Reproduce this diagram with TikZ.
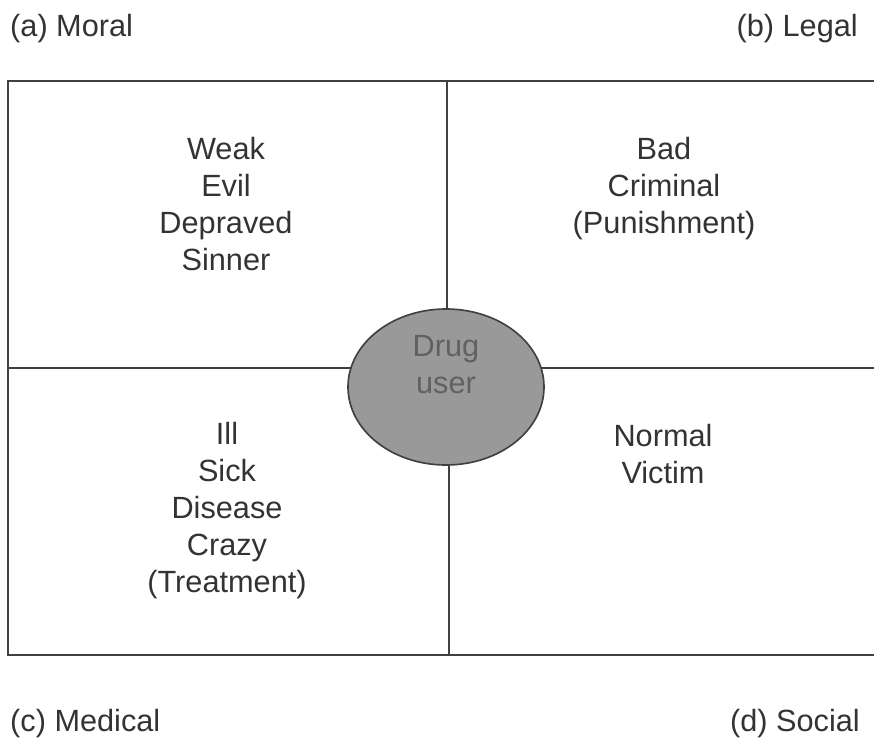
\documentclass[tikz,border=0pt]{standalone}
\usepackage{fontspec}
\setmainfont{Liberation Sans}
\usetikzlibrary{shapes.geometric}
\begin{document}
\begin{tikzpicture}[x=0.03cm,y=-0.03cm,
    frame/.style={draw=black!75,line width=1.7pt},
    words/.style={text=black!80,inner sep=0pt,font=\fontsize{26.2}{31.6}\selectfont},
    view/.style={words,align=center,anchor=north}]
    \useasboundingbox (0,0) rectangle (874,740);

    % frame, open on the right side
    \coordinate (tl) at (8,81);
    \coordinate (tr) at (874,81);
    \coordinate (ml) at (8,368);
    \coordinate (mr) at (874,368);
    \coordinate (bl) at (8,655);
    \coordinate (br) at (874,655);
    \coordinate (tm) at (447,81);
    \coordinate (bm) at (449,655);
    \draw[frame] (tr) -- (tl) -- (bl) -- (br);
    \draw[frame] (ml) -- (mr);

    \node[ellipse,draw=black!75,line width=1.4pt,fill=black!40,
          minimum width=5.88cm,minimum height=4.68cm,inner sep=0pt] (user) at (446,387) {};
    \node[view,text=black!62] (userlbl) at (446,335) {Drug\\user};
    \draw[frame] (tm) -- (tm |- user.north);
    \draw[frame] (user.south -| bm) -- (bm);

    % the four views
    \node[view] (moral) at (226,137) {Weak\\Evil\\Depraved\\Sinner};
    \node[view] (legal) at (664,137) {Bad\\Criminal\\(Punishment)};
    \node[view] (medical) at (227,422) {Ill\\Sick\\Disease\\Crazy\\(Treatment)};
    \node[view] (social) at (663,424) {Normal\\Victim};

    \node[words,anchor=base west] (a) at (10,37) {(a) Moral};
    \node[words,anchor=base east] (b) at (858,37) {(b) Legal};
    \node[words,anchor=base west] (c) at (10,731) {(c) Medical};
    \node[words,anchor=base east] (d) at (860,731) {(d) Social};
\end{tikzpicture}
\end{document}
